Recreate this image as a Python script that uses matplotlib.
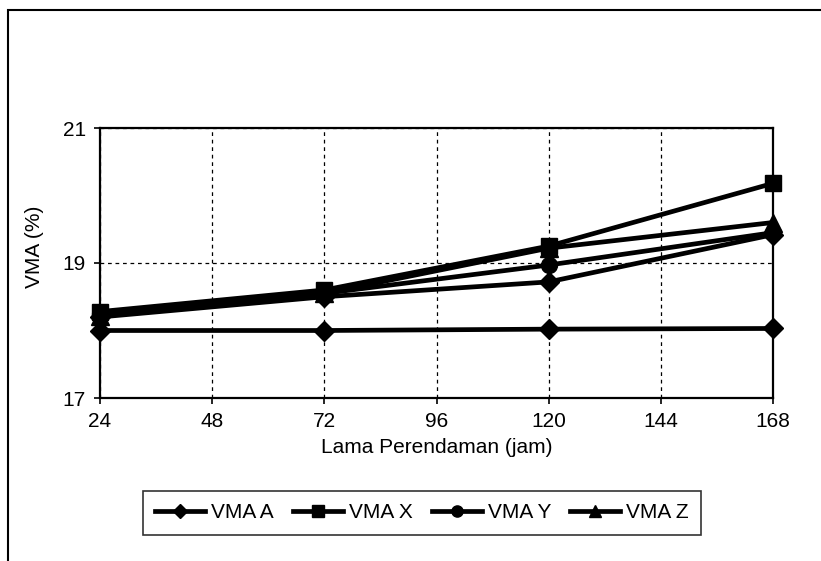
import matplotlib
matplotlib.use("Agg")
import matplotlib.pyplot as plt
from matplotlib.patches import Rectangle

plt.rcParams['font.family'] = ['Liberation Sans', 'DejaVu Sans']

# soaking time (hours)
hours = [24, 72, 120, 168]

# VMA values (%)
vma_a = [18.0, 18.0, 18.02, 18.03]
vma_x = [18.28, 18.6, 19.25, 20.18]
vma_y = [18.25, 18.55, 18.97, 19.45]
vma_z = [18.22, 18.55, 19.22, 19.6]
vma_extra = [18.2, 18.5, 18.72, 19.42]  # fifth series, no legend entry

x_ticks = [24, 48, 72, 96, 120, 144, 168]
y_ticks = [17, 19, 21]

fig = plt.figure(figsize=(8.21, 5.61), dpi=100)
ax = fig.add_axes([100/821, 1 - 398/561, 673/821, 270/561])

lw = 3.4
ms = 11.5
ax.plot(hours, vma_extra, '-D', color='black', lw=lw, ms=ms-1, clip_on=False, label='_extra')
ax.plot(hours, vma_y, '-o', color='black', lw=lw, ms=ms, clip_on=False, label='VMA Y')
ax.plot(hours, vma_z, '-^', color='black', lw=lw, ms=ms+1, clip_on=False, label='VMA Z')
ax.plot(hours, vma_x, '-s', color='black', lw=lw, ms=ms, clip_on=False, label='VMA X')
ax.plot(hours, vma_a, '-D', color='black', lw=lw, ms=ms-1, clip_on=False, label='VMA A')

ax.set_xlim(24, 168)
ax.set_ylim(17, 21)
ax.set_xticks(x_ticks)
ax.set_yticks(y_ticks)
ax.tick_params(labelsize=15, length=4, width=1.2, pad=6)
ax.grid(True, color='black', ls=(0, (3, 3)), lw=0.9)
for s in ax.spines.values():
    s.set_linewidth(1.6)

ax.set_xlabel('Lama Perendaman (jam)', fontsize=15, labelpad=5)
ax.set_ylabel('VMA (%)', fontsize=15, va='center')
ax.yaxis.set_label_coords(-0.098, 0.56)

h, l = ax.get_legend_handles_labels()
order = [l.index(n) for n in ['VMA A', 'VMA X', 'VMA Y', 'VMA Z']]
leg = fig.legend([h[i] for i in order], [l[i] for i in order],
                 loc='center', bbox_to_anchor=(422/821, 1 - 513/561),
                 ncol=4, fontsize=15, frameon=True, fancybox=False,
                 edgecolor='black', handlelength=2.4, handletextpad=0.3,
                 columnspacing=0.9, markerscale=0.7, borderpad=0.6)
leg.get_frame().set_linewidth(1.2)

# outer chart-area border (cut off on the right and bottom)
fig.add_artist(Rectangle((8/821, -0.1), 1.2, 1.1 - 10/561, transform=fig.transFigure,
                         fill=False, edgecolor='black', lw=1.5))

fig.savefig('out.png', dpi=100)
